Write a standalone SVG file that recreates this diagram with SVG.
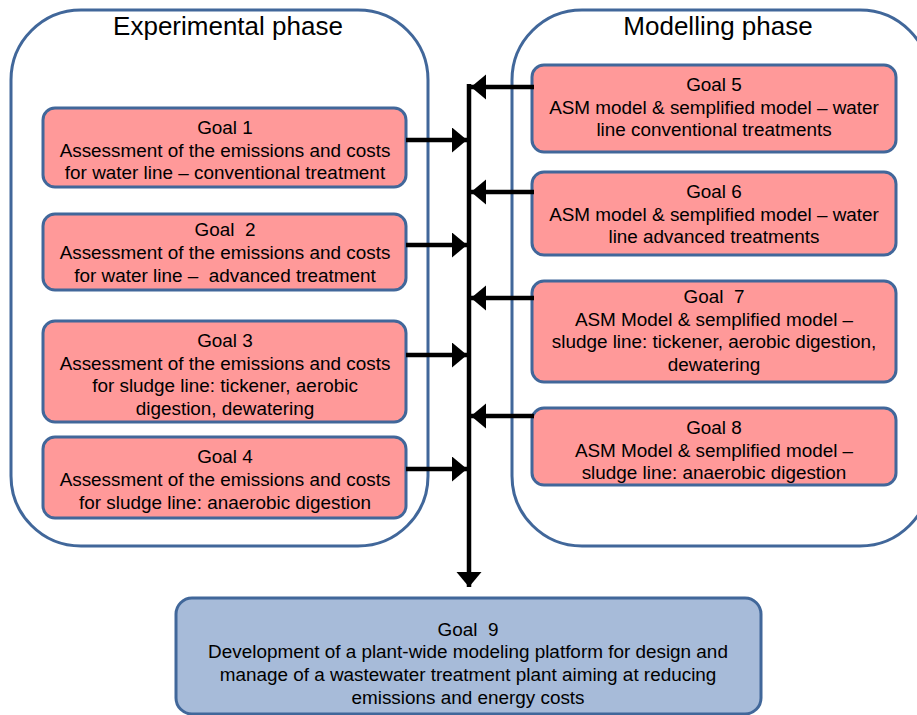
<svg xmlns="http://www.w3.org/2000/svg" width="917" height="715" viewBox="0 0 917 715">
<defs>
<style>
.phase{fill:#fff;stroke:#41679a;stroke-width:3}
.goal{fill:#ff9999;stroke:#41679a;stroke-width:3}
.final{fill:#a7bbd9;stroke:#41679a;stroke-width:3}
text{font-family:"Liberation Sans",Arial,sans-serif;fill:#000;text-anchor:middle}
.t{font-size:18.9px}
.h{font-size:26px}
.c{stroke:#000;stroke-width:4.5;fill:none}
</style>
<marker id="ah" markerUnits="userSpaceOnUse" markerWidth="16" markerHeight="26" refX="15" refY="12.5" orient="auto">
<path d="M0,0 L15,12.5 L0,25 Z" fill="#000"/>
</marker>
</defs>
<rect width="917" height="715" fill="#fff"/>
<g id="experimental">
<rect class="phase" x="11" y="10" width="417" height="536" rx="70" ry="70"/>
<text class="h" x="228" y="35">Experimental phase</text>
</g>
<g id="modelling">
<rect class="phase" x="512" y="10" width="418" height="536" rx="70" ry="70"/>
<text class="h" x="718" y="35">Modelling phase</text>
</g>
<g id="goal1">
<rect class="goal" x="43" y="108" width="363" height="79" rx="12"/>
<text class="t" x="225" y="134">Goal 1</text>
<text class="t" x="225" y="157">Assessment of the emissions and costs</text>
<text class="t" x="225" y="179">for water line – conventional treatment</text>
</g>
<g id="goal2">
<rect class="goal" x="43" y="214" width="363" height="76" rx="12"/>
<text class="t" x="225" y="236" xml:space="preserve">Goal  2</text>
<text class="t" x="225" y="259">Assessment of the emissions and costs</text>
<text class="t" x="225" y="282" xml:space="preserve">for water line –  advanced treatment</text>
</g>
<g id="goal3">
<rect class="goal" x="43" y="321" width="363" height="101" rx="12"/>
<text class="t" x="225" y="347">Goal 3</text>
<text class="t" x="225" y="370">Assessment of the emissions and costs</text>
<text class="t" x="225" y="392">for sludge line: tickener, aerobic</text>
<text class="t" x="225" y="415">digestion, dewatering</text>
</g>
<g id="goal4">
<rect class="goal" x="43" y="437" width="363" height="81" rx="12"/>
<text class="t" x="225" y="463">Goal 4</text>
<text class="t" x="225" y="486">Assessment of the emissions and costs</text>
<text class="t" x="225" y="509">for sludge line: anaerobic digestion</text>
</g>
<g id="goal5">
<rect class="goal" x="532" y="65" width="364" height="87" rx="12"/>
<text class="t" x="714" y="91">Goal 5</text>
<text class="t" x="714" y="114">ASM model &amp; semplified model – water</text>
<text class="t" x="714" y="136">line conventional treatments</text>
</g>
<g id="goal6">
<rect class="goal" x="532" y="172" width="364" height="83" rx="12"/>
<text class="t" x="714" y="198">Goal 6</text>
<text class="t" x="714" y="221">ASM model &amp; semplified model – water</text>
<text class="t" x="714" y="243">line advanced treatments</text>
</g>
<g id="goal7">
<rect class="goal" x="532" y="281" width="364" height="101" rx="12"/>
<text class="t" x="714" y="303" xml:space="preserve">Goal  7</text>
<text class="t" x="714" y="326">ASM Model &amp; semplified model –</text>
<text class="t" x="714" y="348">sludge line: tickener, aerobic digestion,</text>
<text class="t" x="714" y="371">dewatering</text>
</g>
<g id="goal8">
<rect class="goal" x="532" y="408" width="364" height="77" rx="12"/>
<text class="t" x="714" y="434">Goal 8</text>
<text class="t" x="714" y="457">ASM Model &amp; semplified model –</text>
<text class="t" x="714" y="479">sludge line: anaerobic digestion</text>
</g>
<g id="goal9">
<rect class="final" x="176" y="598" width="585" height="116" rx="16"/>
<text class="t" x="468" y="636" xml:space="preserve">Goal  9</text>
<text class="t" x="468" y="658">Development of a plant-wide modeling platform for design and</text>
<text class="t" x="468" y="681">manage of a wastewater treatment plant aiming at reducing</text>
<text class="t" x="468" y="704">emissions and energy costs</text>
</g>
<g id="connectors">
<line class="c" x1="469" y1="84" x2="469" y2="587" marker-end="url(#ah)"/>
<line class="c" x1="406" y1="140" x2="467" y2="140" marker-end="url(#ah)"/>
<line class="c" x1="406" y1="245" x2="467" y2="245" marker-end="url(#ah)"/>
<line class="c" x1="406" y1="355" x2="467" y2="355" marker-end="url(#ah)"/>
<line class="c" x1="406" y1="469" x2="467" y2="469" marker-end="url(#ah)"/>
<line class="c" x1="534" y1="87" x2="471" y2="87" marker-end="url(#ah)"/>
<line class="c" x1="534" y1="192" x2="471" y2="192" marker-end="url(#ah)"/>
<line class="c" x1="534" y1="298" x2="471" y2="298" marker-end="url(#ah)"/>
<line class="c" x1="534" y1="416" x2="471" y2="416" marker-end="url(#ah)"/>
</g>
</svg>
